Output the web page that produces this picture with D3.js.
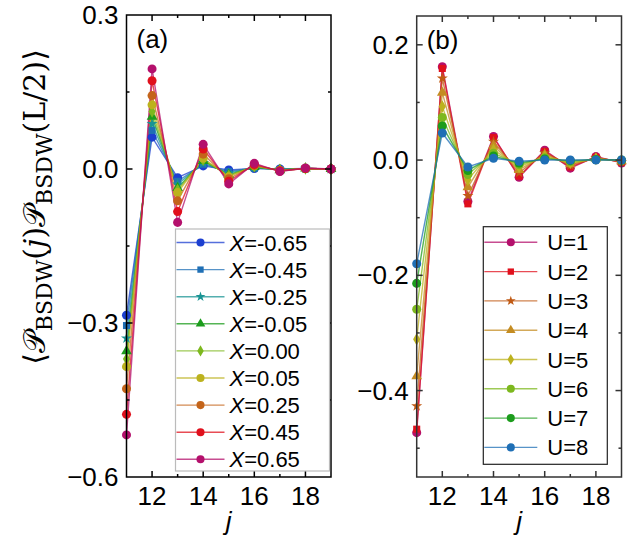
<!DOCTYPE html>
<html>
<head>
<meta charset="utf-8">
<script src="https://cdn.jsdelivr.net/npm/d3@7"></script>
<style>
  body { margin: 0; background: #fff; }
  text { font-family: "Liberation Sans", Arial, sans-serif; fill: #000; }
</style>
</head>
<body>
<svg id="chart" width="642" height="548"></svg>
<script>
const J = [11, 12, 13, 14, 15, 16, 17, 18, 19];
const X_TICKS = [12, 14, 16, 18];

// panel (a)
const X_LABELS = ["-0.65", "-0.45", "-0.25", "-0.05", "0.00", "0.05", "0.25", "0.45", "0.65"];
const A_M065 = [-0.285, 0.062, -0.017, 0.006, -0.002, 0.001, 0.000, 0.001, 0.000];
const A_M045 = [-0.305, 0.075, -0.024, 0.009, -0.005, 0.002, -0.001, 0.001, 0.000];
const A_M025 = [-0.330, 0.088, -0.030, 0.012, -0.008, 0.003, -0.001, 0.001, 0.000];
const A_M005 = [-0.355, 0.102, -0.037, 0.016, -0.011, 0.004, -0.002, 0.001, 0.000];
const A_P000 = [-0.370, 0.112, -0.041, 0.018, -0.013, 0.005, -0.002, 0.001, 0.000];
const A_P005 = [-0.385, 0.125, -0.046, 0.021, -0.015, 0.006, -0.003, 0.001, 0.000];
const A_P025 = [-0.428, 0.143, -0.062, 0.029, -0.019, 0.007, -0.003, 0.001, 0.000];
const A_P045 = [-0.478, 0.172, -0.083, 0.039, -0.024, 0.009, -0.004, 0.001, 0.000];
const A_P065 = [-0.518, 0.195, -0.104, 0.048, -0.029, 0.011, -0.005, 0.002, 0.000];
const A_TICKS = [0.3, 0.0, -0.3, -0.6];

// panel (b)
const U_LABELS = ["U=1", "U=2", "U=3", "U=4", "U=5", "U=6", "U=7", "U=8"];
const B_U1 = [-0.473, 0.162, -0.072, 0.041, -0.030, 0.017, -0.014, 0.006, -0.005];
const B_U2 = [-0.467, 0.159, -0.076, 0.039, -0.028, 0.015, -0.012, 0.005, -0.004];
const B_U3 = [-0.427, 0.142, -0.062, 0.032, -0.022, 0.012, -0.009, 0.004, -0.003];
const B_U4 = [-0.375, 0.117, -0.047, 0.025, -0.017, 0.009, -0.007, 0.003, -0.002];
const B_U5 = [-0.311, 0.093, -0.034, 0.018, -0.012, 0.006, -0.005, 0.002, -0.001];
const B_U6 = [-0.259, 0.074, -0.025, 0.012, -0.008, 0.004, -0.003, 0.001, -0.001];
const B_U7 = [-0.214, 0.059, -0.018, 0.007, -0.005, 0.002, -0.001, 0.001, 0.000];
const B_U8 = [-0.180, 0.047, -0.012, 0.003, -0.002, 0.000, 0.000, 0.000, 0.000];
const B_TICKS = [0.2, 0.0, -0.2, -0.4];

const A_COLORS = ["#1c3fd0", "#1f6fb5", "#1a9494", "#1c9c1c", "#7db81e", "#bcb21e", "#c4641a", "#e0101c", "#b4106c"];
const A_SHAPES = ["circle", "square", "star", "triangle", "diamond", "circle", "circle", "circle", "circle"];
const B_COLORS = ["#b4106c", "#e0101c", "#c05a14", "#c48c22", "#bcb21e", "#7db81e", "#1c9c1c", "#1f6fb5"];
const B_SHAPES = ["circle", "square", "star", "triangle", "diamond", "circle", "circle", "circle"];

const svg = d3.select("#chart");

const SYM = { circle: d3.symbolCircle, square: d3.symbolSquare, star: d3.symbolStar,
              triangle: d3.symbolTriangle, diamond: d3.symbolDiamond };
const SYM_SIZE = { circle: 64, square: 50, star: 38, triangle: 50, diamond: 45 };

function panel(opts) {
    const g = svg.append("g");
    const x = d3.scaleLinear().domain([11, 19]).range([opts.left, opts.right]);
    const y = d3.scaleLinear().domain(opts.ydom).range([opts.bottom, opts.top]);

    // series
    const line = d3.line().x((d, i) => x(J[i])).y(d => y(d));
    opts.series.forEach((s, k) => {
        g.append("path").datum(s)
            .attr("d", line)
            .attr("fill", "none")
            .attr("stroke", opts.colors[k])
            .attr("stroke-opacity", 0.75)
            .attr("stroke-width", 1.4);
    });
    opts.series.forEach((s, k) => {
        const shape = opts.shapes[k];
        g.selectAll(null).data(s).join("path")
            .attr("transform", (d, i) => `translate(${x(J[i])},${y(d)})`)
            .attr("d", d3.symbol(SYM[shape], SYM_SIZE[shape]))
            .attr("fill", opts.colors[k]);
    });

    // frame with inward ticks on all sides
    const fg = g.append("g").attr("stroke", opts.frame).attr("stroke-width", 1.5);
    fg.append("rect")
        .attr("x", opts.left).attr("y", opts.top)
        .attr("width", opts.right - opts.left).attr("height", opts.bottom - opts.top)
        .attr("fill", "none");
    d3.range(12, 19).forEach(v => {
        const len = v % 2 === 0 ? 6 : 3;
        fg.append("line").attr("x1", x(v)).attr("x2", x(v)).attr("y1", opts.bottom).attr("y2", opts.bottom - len);
        fg.append("line").attr("x1", x(v)).attr("x2", x(v)).attr("y1", opts.top).attr("y2", opts.top + len);
    });
    opts.minor.forEach(v => {
        const major = opts.yticks.some(t => Math.abs(t - v) < 1e-9);
        const len = major ? 6 : 3;
        fg.append("line").attr("x1", opts.left).attr("x2", opts.left + len).attr("y1", y(v)).attr("y2", y(v));
        fg.append("line").attr("x1", opts.right).attr("x2", opts.right - len).attr("y1", y(v)).attr("y2", y(v));
    });

    // tick labels
    g.selectAll(null).data(X_TICKS).join("text")
        .attr("x", d => x(d)).attr("y", opts.bottom + 28)
        .attr("text-anchor", "middle").attr("font-size", 26)
        .text(d => d);
    g.selectAll(null).data(opts.yticks).join("text")
        .attr("x", opts.left - 8).attr("y", d => y(d) + 9)
        .attr("text-anchor", "end").attr("font-size", 26)
        .text(d => d3.format(".1f")(d));

    // j label
    g.append("text")
        .attr("x", (opts.left + opts.right) / 2).attr("y", 530)
        .attr("text-anchor", "middle").attr("font-size", 26).attr("font-style", "italic")
        .text("j");

    // panel tag
    g.append("text")
        .attr("x", opts.left + 10).attr("y", opts.top + 33)
        .attr("font-size", 26).text(opts.tag);

    // legend
    const lg = g.append("g");
    lg.append("rect")
        .attr("x", opts.leg.x).attr("y", opts.leg.y)
        .attr("width", opts.leg.w).attr("height", opts.leg.h)
        .attr("fill", "#fff").attr("stroke", opts.leg.stroke).attr("stroke-width", 1.2);
    opts.labels.forEach((lab, k) => {
        const yy = opts.leg.y + opts.leg.first + k * opts.leg.step;
        lg.append("line")
            .attr("x1", opts.leg.x + 1).attr("x2", opts.leg.x + 1 + opts.leg.lineW)
            .attr("y1", yy).attr("y2", yy)
            .attr("stroke", opts.colors[k]).attr("stroke-opacity", 0.75).attr("stroke-width", 1.4);
        const shape = opts.shapes[k];
        lg.append("path")
            .attr("transform", `translate(${opts.leg.x + 1 + opts.leg.lineW / 2},${yy})`)
            .attr("d", d3.symbol(SYM[shape], SYM_SIZE[shape] * 0.8))
            .attr("fill", opts.colors[k]);
        const t = lg.append("text")
            .attr("x", opts.leg.x + opts.leg.textX).attr("y", yy + 8)
            .attr("font-size", 22);
        if (opts.italicX) {
            t.append("tspan").attr("font-style", "italic").text("X");
            t.append("tspan").text("=" + lab);
        } else {
            t.text(lab);
        }
    });
}

panel({
    left: 126.5, right: 331, top: 15, bottom: 477,
    ydom: [-0.6, 0.3], yticks: A_TICKS,
    minor: [0.15, 0.0, -0.15, -0.3, -0.45],
    series: [A_M065, A_M045, A_M025, A_M005, A_P000, A_P005, A_P025, A_P045, A_P065],
    colors: A_COLORS, shapes: A_SHAPES, labels: X_LABELS, italicX: true,
    frame: "#000", tag: "(a)",
    leg: { x: 175.5, y: 229, w: 154, h: 242, stroke: "#bbb", first: 13.5, step: 27.1, lineW: 48, textX: 54 }
});

panel({
    left: 416.7, right: 621.5, top: 16, bottom: 477,
    ydom: [-0.55, 0.25], yticks: B_TICKS,
    minor: [0.2, 0.1, 0.0, -0.1, -0.2, -0.3, -0.4, -0.5],
    series: [B_U1, B_U2, B_U3, B_U4, B_U5, B_U6, B_U7, B_U8],
    colors: B_COLORS, shapes: B_SHAPES, labels: U_LABELS, italicX: false,
    frame: "#333", tag: "(b)",
    leg: { x: 483.3, y: 226.7, w: 124, h: 237.6, stroke: "#222", first: 15.6, step: 29.3, lineW: 53, textX: 64 }
});

// y label
const yl = svg.append("text")
    .attr("transform", "translate(45,207) rotate(-90)")
    .attr("text-anchor", "middle")
    .style("font-family", "'DejaVu Serif', 'Liberation Serif', serif")
    .attr("font-size", 30);
yl.append("tspan").text("\u27E8");
yl.append("tspan").text("\uD835\uDCAB");
yl.append("tspan").attr("font-size", 22).attr("dy", 7).text("BSDW");
yl.append("tspan").attr("dy", -7).text("(");
yl.append("tspan").attr("font-style", "italic").text("j");
yl.append("tspan").text(")");
yl.append("tspan").text("\uD835\uDCAB");
yl.append("tspan").attr("font-size", 22).attr("dy", 7).text("BSDW");
yl.append("tspan").attr("dy", -7).text("(L/2)");
yl.append("tspan").text("\u27E9");
</script>
</body>
</html>
